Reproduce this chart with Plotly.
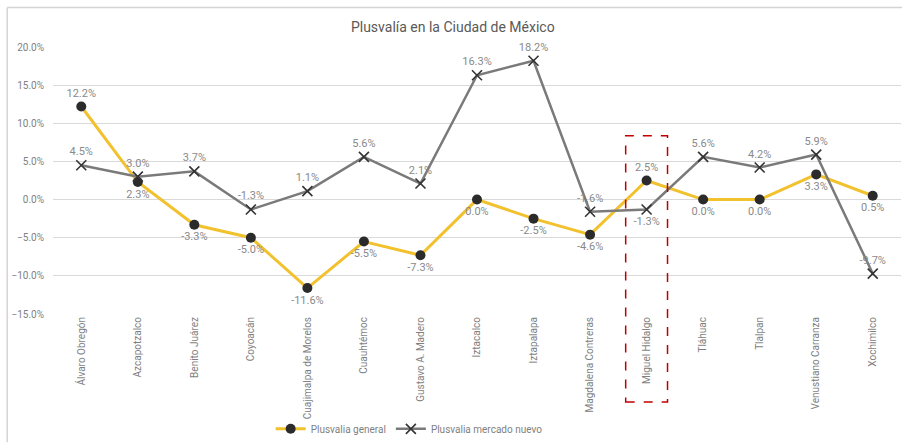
import plotly.graph_objects as go

categories = ["Álvaro Obregón", "Azcapotzalco", "Benito Juárez", "Coyoacán",
              "Cuajimalpa de Morelos", "Cuauhtémoc", "Gustavo A. Madero", "Iztacalco",
              "Iztapalapa", "Magdalena Contreras", "Miguel Hidalgo", "Tláhuac",
              "Tlalpan", "Venustiano Carranza", "Xochimilco"]
plusvalia_general = [12.2, 2.3, -3.3, -5.0, -11.6, -5.5, -7.3, 0.0, -2.5, -4.6, 2.5, 0.0, 0.0, 3.3, 0.5]
plusvalia_nuevo = [4.5, 3.0, 3.7, -1.3, 1.1, 5.6, 2.1, 16.3, 18.2, -1.6, -1.3, 5.6, 4.2, 5.9, -9.7]
y_ticks = [-15, -10, -5, 0, 5, 10, 15, 20]

gen_pos = ["top center", "bottom center", "bottom center", "bottom center", "bottom center",
           "bottom center", "bottom center", "bottom center", "bottom center", "bottom center",
           "top center", "bottom center", "bottom center", "bottom center", "bottom center"]
nuevo_pos = ["top center"] * 10 + ["bottom center"] + ["top center"] * 4

label_font = dict(family="Roboto, Liberation Sans, sans-serif", size=11, color="#8a8a8a")

fig = go.Figure()
fig.add_trace(go.Scatter(
    x=categories, y=[v / 100 for v in plusvalia_general], name="Plusvalia general",
    mode="lines+markers+text",
    line=dict(color="#F2C12E", width=3),
    marker=dict(symbol="circle", size=10, color="#2b2b2b"),
    text=[f"{v:.1f}%" for v in plusvalia_general], textposition=gen_pos,
    textfont=label_font, cliponaxis=False,
))
fig.add_trace(go.Scatter(
    x=categories, y=[v / 100 for v in plusvalia_nuevo], name="Plusvalia mercado nuevo",
    mode="lines+markers+text",
    line=dict(color="#7a7a7a", width=2.5),
    marker=dict(symbol="x-thin", size=10, line=dict(color="#333333", width=1.6)),
    text=[f"{v:.1f}%" for v in plusvalia_nuevo], textposition=nuevo_pos,
    textfont=label_font, cliponaxis=False,
))

# red dashed highlight box around Miguel Hidalgo
fig.add_shape(type="rect", xref="x", yref="paper", x0=9.63, x1=10.37, y0=-0.33, y1=0.668,
              line=dict(color="#C00000", width=1.5, dash="dash"), fillcolor="rgba(0,0,0,0)")
# chart border fragments
fig.add_shape(type="line", xref="paper", yref="paper", x0=-0.054, x1=1.01, y0=1.148, y1=1.148,
              line=dict(color="#d4d4d4", width=1.5))
fig.add_shape(type="line", xref="paper", yref="paper", x0=-0.054, x1=-0.054, y0=1.148, y1=-0.48,
              line=dict(color="#d4d4d4", width=1.5))

fig.update_layout(
    width=902, height=445,
    margin=dict(l=53, r=1, t=47, b=127),
    paper_bgcolor="white", plot_bgcolor="white",
    font=dict(family="Roboto, Liberation Sans, sans-serif", color="#7f7f7f"),
    title=dict(text="Plusvalía en la Ciudad de México", x=0.502, xanchor="center",
               y=0.94, yanchor="middle",
               font=dict(size=14, color="#595959")),
    showlegend=True,
    legend=dict(orientation="h", x=0.42, xanchor="center", y=-0.43, yanchor="middle",
                font=dict(size=10, color="#7f7f7f"), bgcolor="rgba(0,0,0,0)",
                itemwidth=30, tracegroupgap=0),
)
fig.update_xaxes(tickangle=-90, tickfont=dict(size=10, color="#7f7f7f"),
                 showgrid=False, showline=False, ticks="", range=[-0.5, 14.5])
fig.update_yaxes(range=[-0.15, 0.20], tickvals=[v / 100 for v in y_ticks], tickformat=".1%",
                 tickfont=dict(size=10, color="#7f7f7f"), gridcolor="#d9d9d9", gridwidth=1,
                 zeroline=False, showline=False, ticks="", ticklabelstandoff=8)

fig.write_html("out.html")
